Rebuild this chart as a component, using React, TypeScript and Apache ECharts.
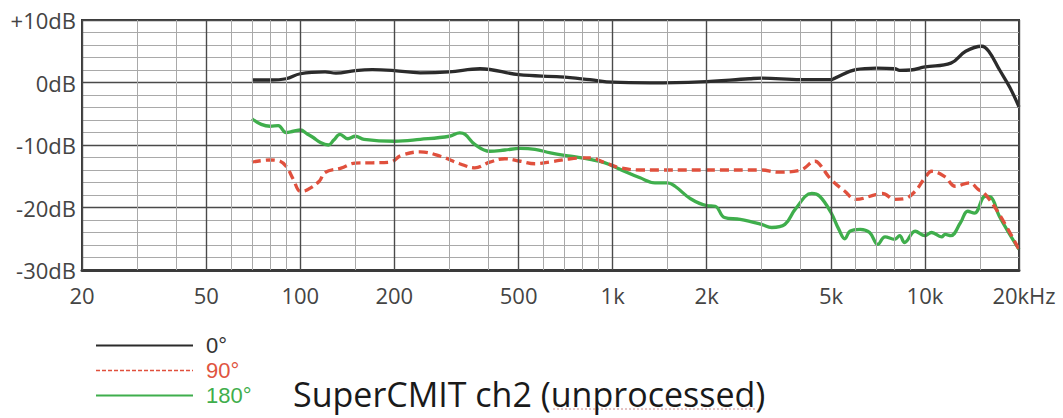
import React, { useEffect, useRef } from 'react';
import * as echarts from 'echarts';

const FONT = "'Open Sans', 'Noto Sans', sans-serif";
const LEGEND_FONT = "'Liberation Sans', Arial, sans-serif";

// x-axis grid / labels (Hz)
const majorFreqs = [20, 50, 100, 200, 500, 1000, 2000, 5000, 10000, 20000];
const majorLabels = ['20', '50', '100', '200', '500', '1k', '2k', '5k', '10k', '20kHz'];
const minorFreqs = [30, 40, 60, 70, 80, 90, 150, 300, 400, 600, 700, 800, 900, 1500, 3000, 4000, 6000, 7000, 8000, 9000, 15000];

// 0° response
const blackFreq = [70, 80, 90, 100, 120, 130, 150, 170, 200, 242, 300, 376, 500, 680, 846, 1000, 1314, 1908, 2740, 3000, 4000, 5000, 5150, 6000, 7000, 8000, 8300, 9000, 10000, 12100, 13500, 15200, 16000, 17340, 18700, 20000];
const blackDb = [0.4, 0.4, 0.6, 1.4, 1.7, 1.5, 1.9, 2.05, 1.9, 1.55, 1.7, 2.2, 1.25, 0.9, 0.45, 0.05, -0.05, 0.1, 0.6, 0.7, 0.45, 0.45, 0.7, 2.05, 2.3, 2.2, 1.95, 2.0, 2.5, 3.1, 5.0, 5.8, 5.0, 2.0, -0.8, -3.9];

// 90° response
const redFreq = [70, 80, 85, 90, 95, 100, 105, 115, 120, 135, 150, 170, 194, 210, 242, 281, 324, 362, 404, 452, 506, 564, 632, 733, 846, 946, 1057, 1224, 2000, 3000, 3380, 4000, 4450, 4600, 5000, 5540, 6000, 7000, 7300, 8000, 8600, 9300, 10000, 10500, 11600, 12500, 13900, 14800, 15600, 17300, 20000];
const redDb = [-12.75, -12.4, -12.5, -13.4, -15.5, -17.4, -17.2, -15.8, -14.4, -13.7, -12.9, -12.85, -12.75, -11.7, -11.1, -11.8, -13.0, -13.65, -12.75, -12.2, -12.6, -13.0, -12.7, -12.2, -12.05, -12.85, -13.65, -14.0, -14.0, -14.0, -14.35, -14.0, -12.6, -13.1, -15.5, -17.4, -18.7, -17.9, -17.75, -18.7, -18.6, -17.4, -15.25, -14.2, -15.1, -16.6, -16.05, -17.1, -17.9, -21.1, -26.7];

// 180° response
const greenFreq = [70, 75, 80, 85, 90, 95, 100, 105, 110, 116, 123, 128, 134, 142, 150, 160, 200, 242, 300, 324, 337, 362, 404, 452, 506, 564, 632, 733, 846, 946, 1057, 1224, 1366, 1500, 1584, 1776, 2000, 2130, 2280, 2560, 3000, 3230, 3560, 3840, 4340, 4600, 5000, 5300, 5540, 5750, 6200, 6650, 7060, 7450, 8000, 8300, 8600, 9300, 10000, 10500, 11300, 11600, 12100, 13000, 13700, 14400, 15600, 16300, 17300, 20000];
const greenDb = [-5.8, -6.7, -7.0, -6.9, -8.0, -7.8, -7.6, -8.2, -8.8, -9.6, -10.0, -9.2, -8.3, -9.0, -8.6, -9.1, -9.4, -9.1, -8.6, -8.05, -8.3, -9.9, -11.0, -10.8, -10.55, -10.7, -11.25, -11.8, -12.3, -12.85, -13.9, -15.25, -16.05, -16.05, -16.6, -18.6, -19.7, -19.8, -21.6, -21.9, -22.7, -23.2, -22.7, -20.3, -17.75, -18.2, -20.8, -23.5, -25.0, -23.8, -23.5, -24.0, -25.9, -24.7, -25.1, -24.5, -25.6, -23.8, -24.5, -24.0, -24.7, -24.3, -24.5, -22.4, -20.6, -20.9, -18.2, -18.4, -21.4, -26.7];

const seriesNames = ['0°', '90°', '180°'];
const titleText = 'SuperCMIT ch2 (unprocessed)';

const pairs = (f: number[], v: number[]) => f.map((x, i) => [x, v[i]]);

export default function App() {
  const ref = useRef<HTMLDivElement>(null);
  useEffect(() => {
    if (!ref.current) return;
    const chart = echarts.init(ref.current, null, { renderer: 'svg' });
    const majorStyle = { color: '#4a4a4a', width: 1.4, type: 'solid' };
    const minorStyle = { color: '#a9a9a9', width: 1, type: 'solid' };
    const gridLines = [
      ...minorFreqs.map((f) => ({ xAxis: f, lineStyle: minorStyle, label: { show: false } })),
      ...majorFreqs.map((f, i) => ({
        xAxis: f,
        lineStyle: majorStyle,
        label: {
          show: true,
          position: 'start',
          formatter: majorLabels[i],
          distance: 14,
          color: '#444',
          fontSize: 22,
          fontFamily: FONT,
          padding: i === majorFreqs.length - 1 ? [0, 0, 0, 10] : 0,
        },
      })),
    ];
    const legendItem = { opacity: 0 };
    chart.setOption({
      animation: false,
      grid: { left: 82, top: 20, width: 937, height: 250, show: true, borderColor: '#3a3a3a', borderWidth: 2 },
      xAxis: {
        type: 'log',
        logBase: 10,
        min: 20,
        max: 20000,
        axisLabel: { show: false },
        axisTick: { show: false },
        splitLine: { show: false },
        axisLine: { show: true, onZero: false, lineStyle: { color: '#3a3a3a', width: 3 } },
      },
      yAxis: {
        type: 'value',
        min: -30,
        max: 10,
        interval: 10,
        axisLabel: {
          color: '#444',
          fontSize: 22,
          fontFamily: FONT,
          margin: 6,
          formatter: (v: number) => (v > 0 ? '+' + v + 'dB' : v + 'dB'),
        },
        axisTick: { show: false },
        axisLine: { show: true, lineStyle: { color: '#3a3a3a', width: 2 } },
        splitLine: { show: true, lineStyle: { color: '#4a4a4a', width: 1.4 } },
        minorTick: { show: false, splitNumber: 5 },
        minorSplitLine: { show: true, lineStyle: { color: '#a9a9a9', width: 1 } },
      },
      legend: {
        orient: 'vertical',
        left: 95,
        top: 333,
        height: 84,
        padding: 0,
        itemWidth: 97,
        itemHeight: 12,
        itemGap: 0,
        textStyle: { fontSize: 22, fontFamily: LEGEND_FONT, lineHeight: 25, padding: [0, 0, 0, 8] },
        data: [
          { name: seriesNames[0], textStyle: { color: '#333' }, lineStyle: { width: 2 }, itemStyle: legendItem },
          { name: seriesNames[1], textStyle: { color: '#e0553f' }, lineStyle: { width: 1.6, type: [4, 2] }, itemStyle: legendItem },
          { name: seriesNames[2], textStyle: { color: '#3fae4c' }, lineStyle: { width: 2 }, itemStyle: legendItem },
        ],
      },
      title: {
        text: titleText,
        left: 293,
        top: 376,
        padding: 0,
        textStyle: { fontSize: 34, fontFamily: FONT, fontWeight: 'normal', color: '#1a1a1a', lineHeight: 36 },
      },
      graphic: [
        {
          type: 'line',
          shape: { x1: 553, y1: 409, x2: 757, y2: 409 },
          style: { stroke: '#c98888', lineWidth: 1, lineDash: [2, 2] },
          silent: true,
        },
      ],
      series: [
        {
          type: 'line',
          name: 'grid',
          data: [[20, -30]],
          symbol: 'none',
          lineStyle: { opacity: 0 },
          z: 1,
          silent: true,
          markLine: { silent: true, symbol: ['none', 'none'], animation: false, data: gridLines },
        },
        {
          type: 'line',
          name: seriesNames[0],
          data: pairs(blackFreq, blackDb),
          symbol: 'none',
          smooth: 0.4,
          lineStyle: { color: '#2b2b2b', width: 3.3 },
          itemStyle: { color: '#2b2b2b' },
          z: 3,
        },
        {
          type: 'line',
          name: seriesNames[2],
          data: pairs(greenFreq, greenDb),
          symbol: 'none',
          smooth: 0.4,
          lineStyle: { color: '#3fae4c', width: 3.3 },
          itemStyle: { color: '#3fae4c' },
          z: 3,
        },
        {
          type: 'line',
          name: seriesNames[1],
          data: pairs(redFreq, redDb),
          symbol: 'none',
          smooth: 0.4,
          lineStyle: { color: '#e0503d', width: 3.3, type: [9, 5] },
          itemStyle: { color: '#e0503d' },
          z: 4,
        },
      ],
    });
    return () => chart.dispose();
  }, []);
  return <div ref={ref} style={{ position: 'absolute', left: 0, top: 0, width: 1063, height: 418 }} />;
}
